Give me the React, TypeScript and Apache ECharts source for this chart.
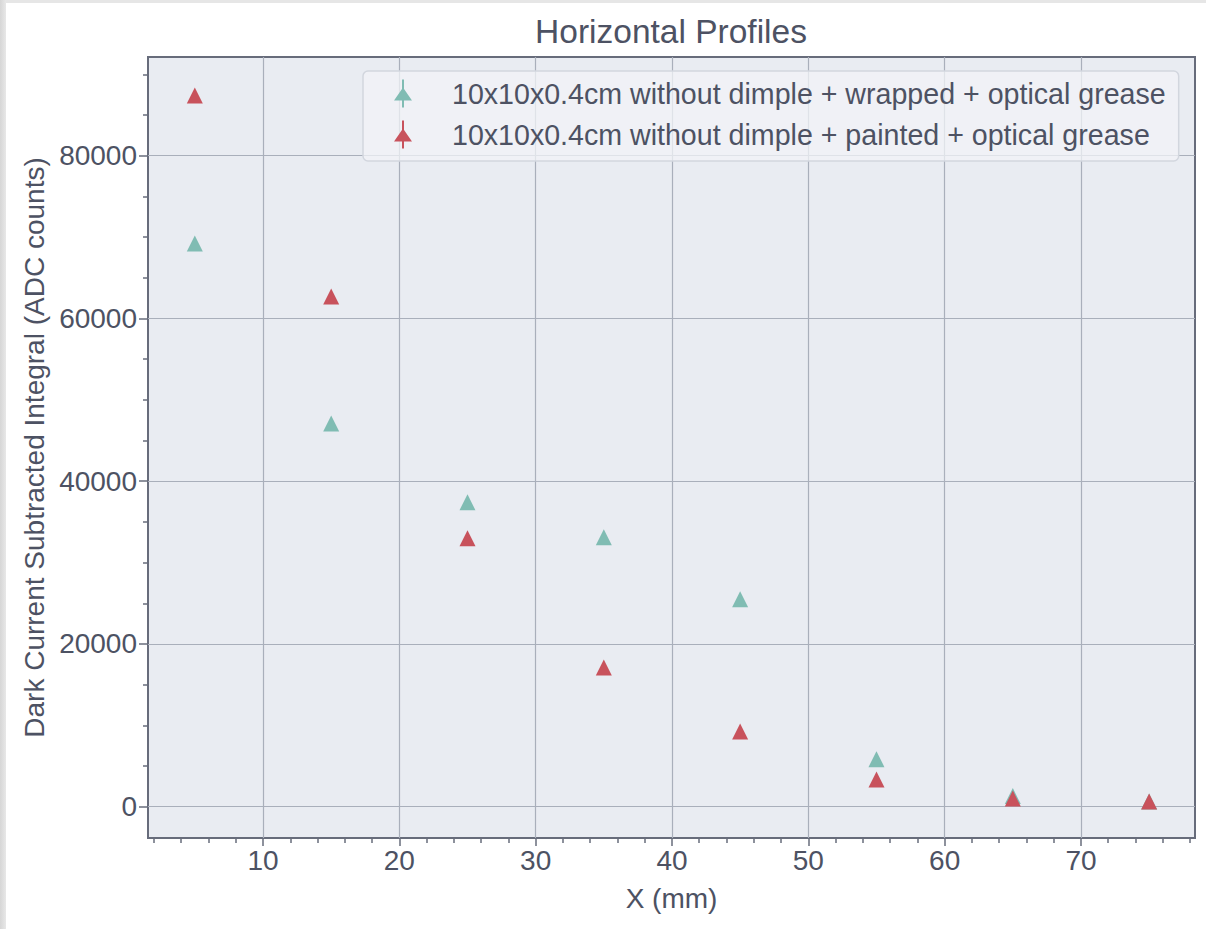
import React, { useEffect, useRef } from "react";
import * as echarts from "echarts";

const X_POS = [5, 15, 25, 35, 45, 55, 65, 75];
const WRAPPED = [69200, 47100, 37400, 33100, 25500, 5840, 1300, 650];
const PAINTED = [87400, 62700, 33000, 17100, 9250, 3340, 1000, 650];
const SERIES_NAMES = [
  "10x10x0.4cm without dimple + wrapped + optical grease",
  "10x10x0.4cm without dimple + painted + optical grease",
];
const X_TICKS = [10, 20, 30, 40, 50, 60, 70];
const X_MINOR = [2, 4, 6, 8, 12, 14, 16, 18, 22, 24, 26, 28, 32, 34, 36, 38, 42, 44, 46, 48, 52, 54, 56, 58, 62, 64, 66, 68, 72, 74, 76, 78];
const Y_TICKS = [0, 20000, 40000, 60000, 80000];
const Y_MINOR = [5000, 10000, 15000, 25000, 30000, 35000, 45000, 50000, 55000, 65000, 70000, 75000, 85000, 90000];
const TITLE = "Horizontal Profiles";
const X_NAME = "X (mm)";
const Y_NAME = "Dark Current Subtracted Integral (ADC counts)";

const X_MIN = 1.565;
const X_MAX = 78.365;
const Y_MIN = -3846;
const Y_MAX = 92130;

const FONT = "'Liberation Sans', Arial, Helvetica, sans-serif";
const TXT = "#4d5263";
const AX = "#676c7b";
const GRID = "#a9afbb";
const TEAL = "#80bcb3";
const RED = "#c8525c";

export default function App() {
  const ref = useRef<HTMLDivElement>(null);
  useEffect(() => {
    if (!ref.current) return;
    const chart = echarts.init(ref.current, null, { renderer: "svg" });
    const pts = (ys: number[]) => X_POS.map((x, i) => [x, ys[i]]);
    const minorX = {
      type: "value",
      gridIndex: 0,
      position: "bottom",
      min: X_MIN,
      max: X_MAX,
      axisLine: { show: false, onZero: false },
      axisLabel: { show: false },
      splitLine: { show: false },
      axisTick: { show: true, length: 5, customValues: X_MINOR, lineStyle: { color: AX, width: 1.5 } },
    };
    const minorY = {
      type: "value",
      gridIndex: 0,
      position: "left",
      min: Y_MIN,
      max: Y_MAX,
      axisLine: { show: false, onZero: false },
      axisLabel: { show: false },
      splitLine: { show: false },
      axisTick: { show: true, length: 5, customValues: Y_MINOR, lineStyle: { color: AX, width: 1.5 } },
    };
    chart.setOption({
      animation: false,
      backgroundColor: "#ffffff",
      title: {
        text: TITLE,
        left: 666,
        top: 9,
        textAlign: "center",
        textVerticalAlign: "top",
        textStyle: { fontSize: 33.5, fontWeight: "normal", color: TXT, fontFamily: FONT },
      },
      graphic: [
        { type: "rect", silent: true, shape: { x: 0, y: 0, width: 1206, height: 3 }, style: { fill: "#e6e6e6" } },
        {
          type: "rect",
          silent: true,
          shape: { x: 0, y: 0, width: 6, height: 929 },
          style: {
            fill: new echarts.graphic.LinearGradient(0, 0, 1, 0, [
              { offset: 0, color: "#d6d6d6" },
              { offset: 1, color: "#e8e8e8" },
            ]),
          },
        },
      ],
      grid: {
        left: 148,
        top: 57,
        right: 11,
        bottom: 91,
        show: true,
        backgroundColor: "#e9ecf2",
        borderColor: AX,
        borderWidth: 2,
        outerBoundsMode: "none",
      },
      legend: {
        orient: "vertical",
        left: 363,
        top: 71,
        padding: [8, 13, 12, 31],
        itemWidth: 18,
        itemHeight: 28,
        itemGap: 12,
        icon: "path://M8,0L10,0L10,28L8,28Z M9,8L18,21L0,21Z",
        selectedMode: false,
        backgroundColor: "rgba(241,243,247,0.75)",
        borderColor: "#d2d6de",
        borderWidth: 1.5,
        borderRadius: 5,
        textStyle: { fontSize: 28.6, color: TXT, fontFamily: FONT, lineHeight: 28, padding: [0, 0, 0, 35] },
        data: SERIES_NAMES,
      },
      xAxis: [
        {
          type: "value",
          gridIndex: 0,
          position: "bottom",
          min: X_MIN,
          max: X_MAX,
          splitNumber: 8,
          axisLine: { show: false, onZero: false },
          axisTick: { show: true, length: 8, customValues: X_TICKS, lineStyle: { color: AX, width: 1.5 } },
          axisLabel: {
            customValues: X_TICKS,
            fontSize: 28,
            color: TXT,
            fontFamily: FONT,
            margin: 8,
            formatter: (v: number) => String(v),
          },
          splitLine: { show: true, lineStyle: { color: GRID, width: 1.2 } },
          name: X_NAME,
          nameLocation: "middle",
          nameGap: 46,
          nameTextStyle: { fontSize: 28, color: TXT, fontFamily: FONT },
        },
        minorX,
      ],
      yAxis: [
        {
          type: "value",
          gridIndex: 0,
          position: "left",
          min: Y_MIN,
          max: Y_MAX,
          axisLine: { show: false, onZero: false },
          axisTick: { show: true, length: 9, customValues: Y_TICKS, lineStyle: { color: AX, width: 1.5 } },
          axisLabel: {
            customValues: Y_TICKS,
            fontSize: 28,
            color: TXT,
            fontFamily: FONT,
            margin: 11,
            formatter: (v: number) => String(v),
          },
          splitLine: { show: true, lineStyle: { color: GRID, width: 1.2 } },
          name: Y_NAME,
          nameLocation: "middle",
          nameGap: 99,
          nameTextStyle: { fontSize: 28, color: TXT, fontFamily: FONT },
        },
        minorY,
      ],
      series: [
        {
          name: SERIES_NAMES[0],
          type: "scatter",
          xAxisIndex: 0,
          yAxisIndex: 0,
          symbol: "triangle",
          symbolSize: 16,
          itemStyle: { color: TEAL, opacity: 1 },
          data: pts(WRAPPED),
        },
        {
          name: SERIES_NAMES[1],
          type: "scatter",
          xAxisIndex: 0,
          yAxisIndex: 0,
          symbol: "triangle",
          symbolSize: 16,
          itemStyle: { color: RED, opacity: 1 },
          data: pts(PAINTED),
        },
      ],
    });
    return () => chart.dispose();
  }, []);
  return (
    <div
      ref={ref}
      style={{ position: "fixed", left: 0, top: 0, width: 1206, height: 929 }}
    />
  );
}
